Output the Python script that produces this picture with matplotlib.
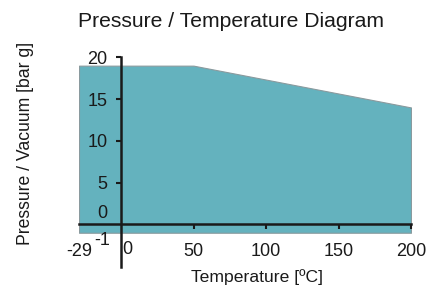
import matplotlib
matplotlib.use("Agg")
import matplotlib.pyplot as plt

# pressure rating vs temperature
temp = [-29, 50, 200]
pressure = [19, 19, 14]
vacuum = -1

x_ticks = [-29, 50, 100, 150, 200]
y_ticks = [5, 10, 15, 20]

plt.rcParams["font.family"] = ["Liberation Sans", "DejaVu Sans"]
tick_size = 13

fig = plt.figure(figsize=(4.34, 2.89), dpi=100)
ax = fig.add_axes([79 / 434, 22 / 289, 332 / 434, 209.7 / 289])

ax.fill_between(temp, pressure, vacuum, facecolor="#64b2be", edgecolor="#8a9a9e", linewidth=0.8)

ax.set_xlim(-29, 200)
ax.set_ylim(-5.1, 20)

for side in ["top", "right"]:
    ax.spines[side].set_visible(False)
ax.spines["left"].set_position(("data", 0))
ax.spines["bottom"].set_position(("data", 0))
ax.spines["bottom"].set_bounds(-29, 200)
for side in ["left", "bottom"]:
    ax.spines[side].set_linewidth(1.8)
    ax.spines[side].set_color("#1a1a1a")
    ax.spines[side].set_zorder(3)

ax.set_xticks(x_ticks)
ax.set_xticklabels([str(v) for v in x_ticks])
ax.set_yticks(y_ticks)
ax.set_yticklabels([str(v) for v in y_ticks])
ax.tick_params(axis="both", direction="out", length=3.6, width=1.5, colors="#1a1a1a", labelsize=tick_size)
ax.tick_params(axis="y", pad=6)
ax.tick_params(axis="x", pad=9.5)
ax.xaxis.get_major_ticks()[0].tick1line.set_visible(False)

# labels that sit off the usual tick spots
ax.annotate("0", (0, 0), xytext=(4.7, -18.3), textcoords="offset points",
            ha="center", va="center", fontsize=tick_size, color="#1a1a1a")
ax.annotate("0", (0, 0), xytext=(-9.6, 7.5), textcoords="offset points",
            ha="right", va="center", fontsize=tick_size, color="#1a1a1a")
ax.annotate("-1", (0, vacuum), xytext=(-8, -5.5), textcoords="offset points",
            ha="right", va="center", fontsize=tick_size, color="#1a1a1a")

fig.text(0.532, 0.927, "Pressure / Temperature Diagram", ha="center", va="center",
         fontsize=15.2, color="#1a1a1a")
fig.text(0.593, 0.043, "Temperature [ºC]", ha="center", va="center",
         fontsize=12.6, color="#1a1a1a")
fig.text(0.058, 0.502, "Pressure / Vacuum [bar g]", ha="center", va="center",
         rotation=90, fontsize=12.7, color="#1a1a1a")

plt.savefig("out.png", dpi=100)
